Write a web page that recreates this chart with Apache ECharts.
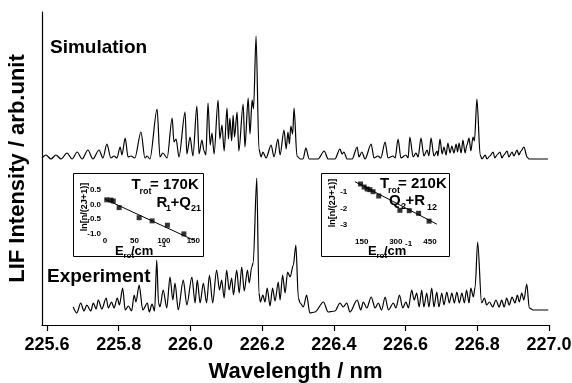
<!DOCTYPE html>
<html><head><meta charset="utf-8">
<script src="https://cdn.jsdelivr.net/npm/echarts@6/dist/echarts.min.js"></script>
<style>html,body{margin:0;padding:0;background:#fff}#c{width:572px;height:383px}</style>
</head><body><div id="c"></div>
<script>
// ---------- data ----------
const wavelengthTicks = [225.6, 225.8, 226.0, 226.2, 226.4, 226.6, 226.8, 227.0];
const simOffset = 166;   // vertical offset of the simulated trace (arb. units)
const expOffset = 12;    // vertical offset of the experimental trace (arb. units)

// simulated LIF spectrum: [wavelength nm, intensity]
const simulation = [
[225.586,1],[225.597,4],[225.611,0],[225.625,4],[225.639,0],[225.656,6],[225.670,0],[225.684,7],[225.698,0],
[225.714,9],[225.728,0],[225.745,9],[225.756,1],[225.767,15],[225.778,1],[225.787,3],[225.795,1],[225.804,12],
[225.809,4],[225.818,21],[225.826,2],[225.834,3],[225.845,1],[225.862,27],[225.873,1],[225.879,3],[225.887,0],
[225.907,50],[225.915,2],[225.923,6],[225.935,1],[225.949,41],[225.954,17],[225.960,20],[225.968,2],[225.985,47],
[225.990,5],[225.999,22],[226.007,3],[226.018,53],[226.024,5],[226.032,19],[226.038,8],[226.043,4],[226.049,56],
[226.055,14],[226.060,26],[226.066,5],[226.077,59],[226.082,20],[226.088,34],[226.094,8],[226.102,51],[226.106,20],
[226.110,41],[226.115,18],[226.119,44],[226.123,22],[226.130,47],[226.135,8],[226.147,55],[226.152,12],[226.161,61],
[226.166,25],[226.172,59],[226.176,50],[226.183,123],[226.191,10],[226.197,2],[226.202,7],[226.211,1],[226.225,14],
[226.233,2],[226.244,20],[226.250,4],[226.261,29],[226.267,10],[226.272,27],[226.276,15],[226.280,33],[226.285,25],
[226.289,51],[226.297,3],[226.306,0],[226.314,0],[226.322,11],[226.331,0],[226.356,0],[226.373,8],[226.384,0],
[226.403,0],[226.417,10],[226.423,5],[226.428,7],[226.437,0],[226.451,0],[226.465,12],[226.470,2],[226.478,7],
[226.487,0],[226.504,15],[226.512,1],[226.523,3],[226.531,1],[226.543,17],[226.551,1],[226.565,3],[226.571,1],
[226.579,20],[226.587,1],[226.601,4],[226.607,1],[226.612,22],[226.621,2],[226.629,6],[226.635,2],[226.643,21],
[226.651,3],[226.660,9],[226.665,3],[226.671,21],[226.679,3],[226.688,8],[226.690,3],[226.696,20],[226.702,5],
[226.707,12],[226.713,4],[226.718,16],[226.724,6],[226.729,13],[226.735,6],[226.741,15],[226.745,7],[226.749,16],
[226.755,6],[226.760,19],[226.766,6],[226.771,14],[226.777,21],[226.782,8],[226.788,22],[226.792,18],[226.799,60],
[226.808,4],[226.813,0],[226.822,4],[226.827,0],[226.835,3],[226.844,7],[226.849,1],[226.855,4],[226.863,7],
[226.869,1],[226.874,4],[226.883,8],[226.888,2],[226.897,7],[226.902,3],[226.911,9],[226.916,4],[226.922,8],
[226.930,12],[226.939,2],[226.944,0],[226.997,0]
];

// experimental LIF spectrum: [wavelength nm, intensity]
const experiment = [
[225.673,6],[225.683,0],[225.694,10],[225.703,2],[225.711,8],[225.722,2],[225.729,10],[225.737,4],[225.743,13],
[225.753,4],[225.765,15],[225.771,5],[225.780,11],[225.787,5],[225.796,15],[225.802,8],[225.811,25],[225.818,3],
[225.827,7],[225.836,2],[225.843,18],[225.848,11],[225.857,28],[225.867,3],[225.880,10],[225.885,1],[225.893,9],
[225.900,2],[225.906,53],[225.911,10],[225.915,6],[225.924,23],[225.934,5],[225.943,36],[225.951,13],[225.957,30],
[225.966,3],[225.980,33],[225.990,8],[226.004,36],[226.013,10],[226.019,33],[226.027,10],[226.036,30],[226.045,10],
[226.053,38],[226.062,10],[226.073,43],[226.081,23],[226.087,33],[226.094,15],[226.101,43],[226.108,23],[226.115,35],
[226.120,18],[226.129,43],[226.136,20],[226.143,46],[226.150,22],[226.159,43],[226.164,30],[226.171,46],[226.175,50],
[226.185,135],[226.191,20],[226.195,11],[226.202,18],[226.208,11],[226.214,25],[226.222,7],[226.229,25],[226.236,12],
[226.245,31],[226.250,13],[226.257,38],[226.264,20],[226.271,41],[226.278,36],[226.287,48],[226.294,68],[226.301,15],
[226.306,10],[226.315,6],[226.324,18],[226.333,0],[226.347,1],[226.371,11],[226.384,1],[226.403,2],[226.417,10],
[226.426,6],[226.436,10],[226.445,1],[226.465,13],[226.475,3],[226.482,11],[226.492,5],[226.504,16],[226.515,5],
[226.524,10],[226.533,3],[226.543,16],[226.552,3],[226.566,10],[226.573,5],[226.583,18],[226.592,5],[226.601,11],
[226.608,5],[226.617,23],[226.624,13],[226.631,20],[226.638,6],[226.645,23],[226.651,6],[226.659,20],[226.665,6],
[226.673,25],[226.679,6],[226.687,21],[226.693,6],[226.701,20],[226.707,8],[226.715,21],[226.722,10],[226.729,20],
[226.736,10],[226.743,21],[226.750,10],[226.757,20],[226.764,10],[226.770,23],[226.777,10],[226.782,25],[226.789,16],
[226.794,26],[226.801,71],[226.812,10],[226.820,15],[226.826,8],[226.834,11],[226.843,6],[226.852,13],[226.861,6],
[226.868,13],[226.875,6],[226.882,15],[226.889,8],[226.897,16],[226.905,10],[226.912,18],[226.917,11],[226.924,20],
[226.930,13],[226.938,29],[226.945,5],[226.956,3],[226.998,3]
];

// inset 1: R1+Q21 Boltzmann plot
const r1Energy = [3, 10, 14, 24, 58, 80, 106, 134];
const r1LnPop  = [0.16, 0.15, 0.12, -0.11, -0.46, -0.57, -0.72, -1.02];
const r1Fit    = [[0, 0.18], [150, -1.23]];
const r1XTicks = [0, 50, 100, 150];
const r1YTicks = [-1.0, -0.5, 0.0, 0.5];

// inset 2: Q2+R12 Boltzmann plot
const q2Energy = [145, 161, 174, 186, 200, 225, 318, 359, 400, 446];
const q2LnPop  = [-0.54, -0.72, -0.84, -0.88, -1.0, -1.26, -2.12, -2.14, -2.30, -2.77];
const q2Fit    = [[120, -0.40], [480, -2.95]];
const q2XTicks = [150, 300, 450];
const q2YTicks = [-3, -2, -1];

// ---------- chart ----------
const FF = "'Liberation Sans', Arial, Helvetica, sans-serif";
const chart = echarts.init(document.getElementById('c'), null, {renderer: 'canvas'});

function txt(text, x, y, size) {
  return {type: 'text', x: x, y: y, z: 100,
    style: {text: text, fontSize: size, fontWeight: 'bold', fontFamily: FF, fill: '#000',
            align: 'left', verticalAlign: 'middle'}};
}
function vtxt(text, x, y, size) {
  return {type: 'text', x: x, y: y, z: 100, rotation: Math.PI / 2,
    style: {text: text, fontSize: size, fontWeight: 'bold', fontFamily: FF, fill: '#000',
            align: 'center', verticalAlign: 'middle'}};
}

const insetLabel = {color: '#000', fontSize: 8, fontWeight: 'bold', fontFamily: FF};

chart.setOption({
  animation: false,
  backgroundColor: '#fff',
  grid: [
    {left: 42, top: 12, width: 507, height: 313, outerBoundsMode: 'none', containLabel: false},
    {left: 105, top: 187.1, width: 88.3, height: 49.1, outerBoundsMode: 'none', containLabel: false},
    {left: 350.3, top: 180, width: 86.5, height: 48.3, outerBoundsMode: 'none', containLabel: false}
  ],
  xAxis: [
    {gridIndex: 0, type: 'value', min: 225.586, max: 227.0,
     axisLine: {show: true, onZero: false, lineStyle: {color: '#000', width: 1.2}},
     axisTick: {show: true, customValues: wavelengthTicks, length: 6, lineStyle: {color: '#000', width: 1.2}},
     axisLabel: {customValues: wavelengthTicks, formatter: v => v.toFixed(1), color: '#000',
                 fontSize: 18, fontWeight: 'bold', fontFamily: FF, margin: 11},
     splitLine: {show: false},
     name: 'Wavelength / nm', nameLocation: 'middle', nameGap: 36,
     nameTextStyle: {fontSize: 22, fontWeight: 'bold', fontFamily: FF, color: '#000'}},
    {gridIndex: 1, type: 'value', min: 0, max: 150, interval: 50,
     axisLine: {show: false}, axisTick: {show: false}, splitLine: {show: false},
     axisLabel: Object.assign({margin: 1, showMinLabel: true, showMaxLabel: true}, insetLabel)},
    {gridIndex: 2, type: 'value', min: 100, max: 480,
     axisLine: {show: false}, axisTick: {show: false}, splitLine: {show: false},
     axisLabel: Object.assign({customValues: q2XTicks, margin: 9}, insetLabel)}
  ],
  yAxis: [
    {gridIndex: 0, type: 'value', min: 0, max: 313,
     axisLine: {show: true, onZero: false, lineStyle: {color: '#000', width: 1.2}},
     axisTick: {show: false}, axisLabel: {show: false}, splitLine: {show: false},
     name: 'LIF Intensity / arb.unit', nameLocation: 'middle', nameGap: 13,
     nameTextStyle: {fontSize: 22, fontWeight: 'bold', fontFamily: FF, color: '#000'}},
    {gridIndex: 1, type: 'value', min: -1.1, max: 0.6,
     axisLine: {show: false}, axisTick: {show: false}, splitLine: {show: false},
     axisLabel: Object.assign({customValues: r1YTicks, formatter: v => v.toFixed(1), margin: 4}, insetLabel)},
    {gridIndex: 2, type: 'value', min: -3.2, max: -0.3,
     axisLine: {show: false}, axisTick: {show: false}, splitLine: {show: false},
     axisLabel: Object.assign({customValues: q2YTicks, margin: 3}, insetLabel)}
  ],
  graphic: [
    {type: 'rect', z: 50, shape: {x: 73.5, y: 173.5, width: 130, height: 83},
     style: {fill: 'rgba(255,255,255,0)', stroke: '#000', lineWidth: 1}},
    {type: 'rect', z: 50, shape: {x: 321.5, y: 173.5, width: 128, height: 83},
     style: {fill: 'rgba(255,255,255,0)', stroke: '#000', lineWidth: 1}},
    txt('Simulation', 50, 48, 19),
    txt('Experiment', 47, 277, 19),
    // inset 1 texts
    txt('T', 131.5, 185, 15), txt('rot', 139.5, 192, 9), txt('= 170K', 150, 185, 15),
    txt('R', 156.5, 203, 15), txt('1', 166, 209, 9), txt('+Q', 170.5, 203, 15), txt('21', 191, 209, 9),
    vtxt('ln[n/(2J+1)]', 85, 207, 9),
    txt('E', 115, 251.5, 13), txt('rot', 123.5, 256, 8), txt('/cm', 131, 251.5, 13), txt('-1', 159, 245, 8),
    // inset 2 texts
    txt('T', 380, 183.5, 15), txt('rot', 388, 191, 9), txt('= 210K', 398, 183.5, 15),
    txt('Q', 389, 201, 15), txt('2', 401, 207, 9), txt('+R', 405.5, 201, 15), txt('12', 427, 207.5, 9),
    vtxt('ln[n/(2J+1)]', 333, 203, 9),
    txt('E', 368, 251, 13), txt('rot', 376.5, 255.5, 8), txt('/cm', 384, 251, 13), txt('-1', 405, 244, 8)
  ],
  series: [
    {type: 'line', xAxisIndex: 0, yAxisIndex: 0, symbol: 'none', silent: true,
     smooth: 0.3, smoothMonotone: 'x',
     lineStyle: {color: '#000', width: 1.2},
     data: simulation.map(p => [p[0], p[1] + simOffset])},
    {type: 'line', xAxisIndex: 0, yAxisIndex: 0, symbol: 'none', silent: true,
     smooth: 0.3, smoothMonotone: 'x',
     lineStyle: {color: '#000', width: 1.2},
     data: experiment.map(p => [p[0], p[1] + expOffset])},
    {type: 'line', xAxisIndex: 1, yAxisIndex: 1, symbol: 'none', clip: false,
     lineStyle: {color: '#000', width: 1}, data: r1Fit},
    {type: 'scatter', xAxisIndex: 1, yAxisIndex: 1, symbol: 'rect', symbolSize: 5,
     itemStyle: {color: '#000'}, data: r1Energy.map((e, i) => [e, r1LnPop[i]])},
    {type: 'line', xAxisIndex: 2, yAxisIndex: 2, symbol: 'none', clip: false,
     lineStyle: {color: '#000', width: 1}, data: q2Fit},
    {type: 'scatter', xAxisIndex: 2, yAxisIndex: 2, symbol: 'rect', symbolSize: 5,
     itemStyle: {color: '#000'}, data: q2Energy.map((e, i) => [e, q2LnPop[i]])}
  ]
});
</script>
</body></html>
